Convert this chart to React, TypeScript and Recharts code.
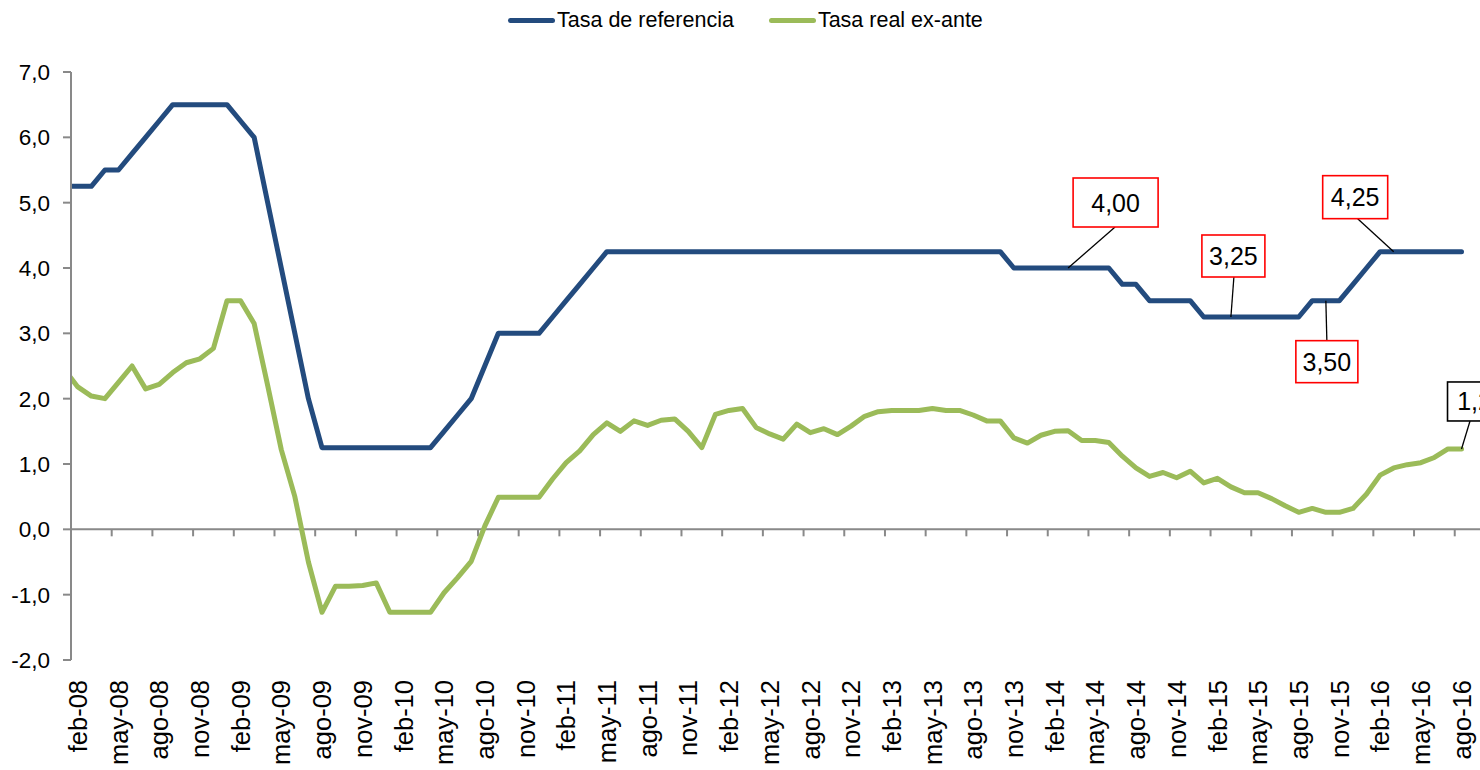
import React from 'react';
import { LineChart, Line, XAxis, YAxis, ReferenceLine, ReferenceDot, Legend } from 'recharts';

const FONT = '"Liberation Sans", Arial, Helvetica, sans-serif';
const BLUE = '#234B7E';
const GREEN = '#9BBB59';
const AXIS = '#898989';

const categories = [
  'ene-08','feb-08','mar-08','abr-08','may-08','jun-08','jul-08','ago-08','sep-08','oct-08','nov-08','dic-08',
  'ene-09','feb-09','mar-09','abr-09','may-09','jun-09','jul-09','ago-09','sep-09','oct-09','nov-09','dic-09',
  'ene-10','feb-10','mar-10','abr-10','may-10','jun-10','jul-10','ago-10','sep-10','oct-10','nov-10','dic-10',
  'ene-11','feb-11','mar-11','abr-11','may-11','jun-11','jul-11','ago-11','sep-11','oct-11','nov-11','dic-11',
  'ene-12','feb-12','mar-12','abr-12','may-12','jun-12','jul-12','ago-12','sep-12','oct-12','nov-12','dic-12',
  'ene-13','feb-13','mar-13','abr-13','may-13','jun-13','jul-13','ago-13','sep-13','oct-13','nov-13','dic-13',
  'ene-14','feb-14','mar-14','abr-14','may-14','jun-14','jul-14','ago-14','sep-14','oct-14','nov-14','dic-14',
  'ene-15','feb-15','mar-15','abr-15','may-15','jun-15','jul-15','ago-15','sep-15','oct-15','nov-15','dic-15',
  'ene-16','feb-16','mar-16','abr-16','may-16','jun-16','jul-16','ago-16',
];

const tickLabels = [
  'feb-08','may-08','ago-08','nov-08','feb-09','may-09','ago-09','nov-09','feb-10','may-10','ago-10','nov-10',
  'feb-11','may-11','ago-11','nov-11','feb-12','may-12','ago-12','nov-12','feb-13','may-13','ago-13','nov-13',
  'feb-14','may-14','ago-14','nov-14','feb-15','may-15','ago-15','nov-15','feb-16','may-16','ago-16',
];

const yTicks = [-2, -1, 0, 1, 2, 3, 4, 5, 6, 7];

const seriesNames = ['Tasa de referencia', 'Tasa real ex-ante'];

const tasaReferencia = [
  5.25, 5.25, 5.25, 5.5, 5.5, 5.75, 6.0, 6.25, 6.5, 6.5, 6.5, 6.5,
  6.5, 6.25, 6.0, 5.0, 4.0, 3.0, 2.0, 1.25, 1.25, 1.25, 1.25, 1.25,
  1.25, 1.25, 1.25, 1.25, 1.5, 1.75, 2.0, 2.5, 3.0, 3.0, 3.0, 3.0,
  3.25, 3.5, 3.75, 4.0, 4.25, 4.25, 4.25, 4.25, 4.25, 4.25, 4.25, 4.25,
  4.25, 4.25, 4.25, 4.25, 4.25, 4.25, 4.25, 4.25, 4.25, 4.25, 4.25, 4.25,
  4.25, 4.25, 4.25, 4.25, 4.25, 4.25, 4.25, 4.25, 4.25, 4.25, 4.0, 4.0,
  4.0, 4.0, 4.0, 4.0, 4.0, 4.0, 3.75, 3.75, 3.5, 3.5, 3.5, 3.5,
  3.25, 3.25, 3.25, 3.25, 3.25, 3.25, 3.25, 3.25, 3.5, 3.5, 3.5, 3.75,
  4.0, 4.25, 4.25, 4.25, 4.25, 4.25, 4.25, 4.25,
];

const tasaRealExAnte = [
  2.45, 2.18, 2.04, 2.0, 2.25, 2.5, 2.15, 2.22, 2.4, 2.55, 2.61, 2.77,
  3.5, 3.5, 3.15, 2.2, 1.22, 0.5, -0.5, -1.27, -0.87, -0.87, -0.86, -0.82,
  -1.27, -1.27, -1.27, -1.27, -0.97, -0.74, -0.49, 0.05, 0.49, 0.49, 0.49, 0.49,
  0.77, 1.02, 1.2, 1.45, 1.63, 1.5, 1.66, 1.59, 1.67, 1.69, 1.5, 1.25,
  1.76, 1.82, 1.85, 1.56, 1.46, 1.38, 1.61, 1.48, 1.54, 1.45, 1.58, 1.73,
  1.8, 1.82, 1.82, 1.82, 1.85, 1.82, 1.82, 1.75, 1.66, 1.66, 1.4, 1.32,
  1.44, 1.5, 1.51, 1.36, 1.36, 1.33, 1.12, 0.94, 0.81, 0.87, 0.79, 0.89,
  0.71, 0.78, 0.65, 0.56, 0.56, 0.47, 0.36, 0.26, 0.32, 0.26, 0.26, 0.32,
  0.54, 0.83, 0.94, 0.99, 1.02, 1.1, 1.23, 1.23,
];

const rows = categories.map((c, i) => ({
  i,
  label: c,
  ref: tasaReferencia[i],
  real: tasaRealExAnte[i],
}));

const tickIdx = tickLabels.map((l) => categories.indexOf(l));
const tickMarks = tickIdx.map((i) => i - 0.5);

// callout layout: box = [dx, dy, w, h] relative to the data point, lead = start of leader line
const callouts = [
  { index: 74, key: 'ref', border: '#FF0000', box: [5, -90, 85, 49], lead: [47, -41] },
  { index: 86, key: 'ref', border: '#FF0000', box: [-29, -82, 63, 42], lead: [3, -40] },
  { index: 98, key: 'ref', border: '#FF0000', box: [-71, -76, 65, 43], lead: [-36, -33] },
  { index: 93, key: 'ref', border: '#FF0000', box: [-30, 40, 62, 42], lead: [1, 40] },
  { index: 103, key: 'real', border: '#000000', box: [-14, -67, 68, 39], lead: [8.5, -28] },
];

const LEGEND_H = 30;

const fmt1 = (v: number) => v.toFixed(1).replace('.', ',');
const fmt2 = (v: number) => v.toFixed(2).replace('.', ',');

const XTick = (props: any) => {
  const { x, y, payload } = props;
  const label = categories[payload.value];
  return (
    <text
      x={x}
      y={y}
      transform={`rotate(-90 ${x} ${y})`}
      textAnchor="end"
      dy="0.36em"
      fontSize={25.5}
      fontFamily={FONT}
      fill="#000"
    >
      {label}
    </text>
  );
};

const Callout = ({ cx, cy, c, value }: any) => {
  const [bx, by, bw, bh] = c.box;
  const [lx, ly] = c.lead;
  return (
    <g>
      <line x1={cx + lx} y1={cy + ly} x2={cx} y2={cy} stroke="#000" strokeWidth={1.3} />
      <rect x={cx + bx} y={cy + by} width={bw} height={bh} fill="#fff" stroke={c.border} strokeWidth={1.6} />
      <text
        x={cx + bx + bw / 2}
        y={cy + by + bh / 2}
        textAnchor="middle"
        dy="0.36em"
        fontSize={25}
        fontFamily={FONT}
        fill="#000"
      >
        {fmt2(value)}
      </text>
    </g>
  );
};

const renderLegend = () => (
  <div
    style={{
      display: 'flex',
      alignItems: 'center',
      height: LEGEND_H,
      fontFamily: FONT,
      fontSize: 21.5,
      color: '#000',
      whiteSpace: 'nowrap',
    }}
  >
    {seriesNames.map((n, k) => (
      <div key={n} style={{ display: 'flex', alignItems: 'center', marginRight: k === 0 ? 35 : 0 }}>
        <span
          style={{
            display: 'inline-block',
            width: 47,
            height: 5,
            borderRadius: 2.5,
            background: k === 0 ? BLUE : GREEN,
            marginRight: 2,
          }}
        />
        <span>{n}</span>
      </div>
    ))}
  </div>
);

export default function App() {
  return (
    <div
      style={{
        position: 'absolute',
        left: 0,
        top: 0,
        width: 1480,
        height: 770,
        overflow: 'hidden',
        background: '#fff',
      }}
    >
      <LineChart width={1520} height={770} data={rows} margin={{ top: 72 - LEGEND_H, right: 11, bottom: 0, left: 0 }}>
        <Legend
          layout="horizontal"
          align="left"
          verticalAlign="top"
          wrapperStyle={{ left: 508, top: 5, width: 600, height: LEGEND_H }}
          content={renderLegend}
        />
        <XAxis
          type="number"
          dataKey="i"
          domain={[0.5, 106.5]}
          allowDataOverflow
          ticks={tickIdx}
          interval={0}
          tick={<XTick />}
          tickLine={false}
          axisLine={false}
          tickSize={0}
          tickMargin={20}
          height={110}
        />
        <YAxis
          type="number"
          domain={[-2, 7]}
          ticks={yTicks}
          interval={0}
          width={71}
          tickSize={8}
          tickMargin={13}
          tickFormatter={fmt1}
          axisLine={{ stroke: AXIS, strokeWidth: 2 }}
          tickLine={{ stroke: AXIS, strokeWidth: 2 }}
          tick={{ fontSize: 22.5, fill: '#000', fontFamily: FONT }}
        />
        <ReferenceLine y={0} stroke={AXIS} strokeWidth={2} />
        {tickMarks.map((t) => (
          <ReferenceLine
            key={t}
            segment={[
              { x: t, y: 0 },
              { x: t, y: -0.107 },
            ]}
            stroke={AXIS}
            strokeWidth={2}
          />
        ))}
        <Line
          type="linear"
          dataKey="ref"
          name={seriesNames[0]}
          stroke={BLUE}
          strokeWidth={5}
          strokeLinejoin="round"
          strokeLinecap="round"
          dot={false}
          activeDot={false}
          isAnimationActive={false}
        />
        <Line
          type="linear"
          dataKey="real"
          name={seriesNames[1]}
          stroke={GREEN}
          strokeWidth={5}
          strokeLinejoin="round"
          strokeLinecap="round"
          dot={false}
          activeDot={false}
          isAnimationActive={false}
        />
        {callouts.map((c) => {
          const v = c.key === 'ref' ? tasaReferencia[c.index] : tasaRealExAnte[c.index];
          return (
            <ReferenceDot
              key={c.index + c.key}
              x={c.index}
              y={v}
              r={0}
              ifOverflow="visible"
              shape={(p: any) => <Callout cx={p.cx} cy={p.cy} c={c} value={v} />}
            />
          );
        })}
      </LineChart>
    </div>
  );
}
